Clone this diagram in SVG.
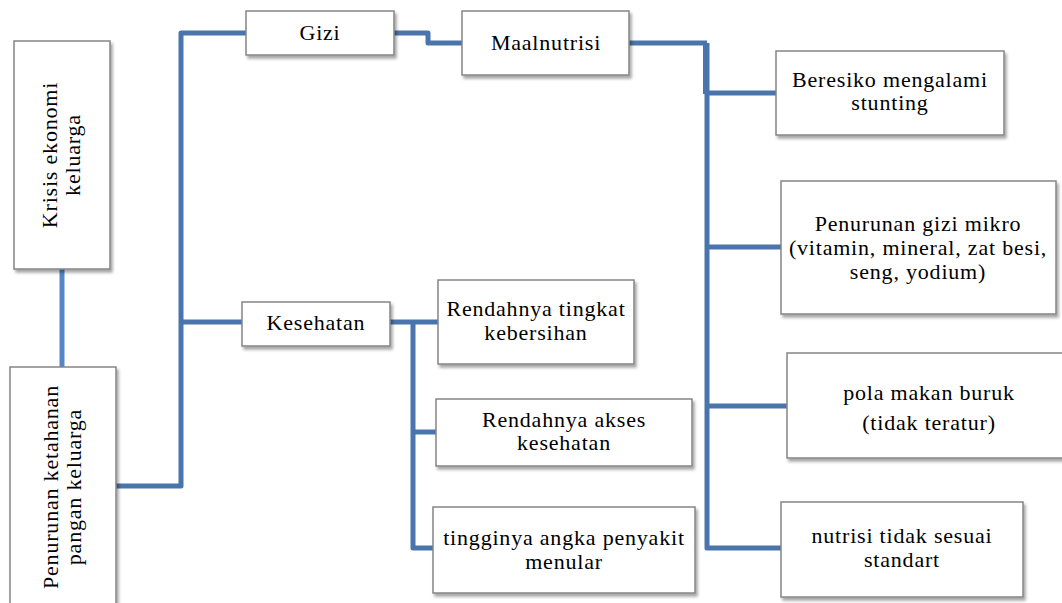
<svg xmlns="http://www.w3.org/2000/svg" width="1062" height="603" viewBox="0 0 1062 603">
<defs>
<filter id="sh" x="-10%" y="-10%" width="130%" height="130%">
<feDropShadow dx="2" dy="3" stdDeviation="1.5" flood-color="#000" flood-opacity="0.35"/>
</filter>
<style>
.box{fill:#fff;stroke:#858585;stroke-width:1.5;filter:url(#sh)}
.t{font-family:'Liberation Serif','DejaVu Serif',serif;font-size:22px;letter-spacing:0.8px;fill:#000;text-anchor:middle}
.c{fill:none;stroke:#4a74ac;stroke-width:5;stroke-linejoin:round}
.cl{fill:none;stroke:#5587c6;stroke-width:5}
</style>
</defs>
<rect width="1062" height="603" fill="#fff"/>
<g id="connectors">
<path class="cl" d="M62 269 V367"/>
<path class="c" d="M116 486 H181 V33 H246"/>
<path class="c" d="M181 322 H242"/>
<path class="c" stroke-width="4" d="M394 33 H428 V43 H462"/>
<path class="c" d="M390 322 H438"/>
<path class="c" d="M413 322 V548 H433"/>
<path class="c" d="M413 432 H436"/>
<path class="c" stroke-width="6" d="M629 43 H707"/>
<path class="c" stroke-width="11" d="M705.5 43 V94"/>
<path class="c" d="M707 43 V548 H781"/>
<path class="c" d="M707 93 H776"/>
<path class="c" d="M707 247 H781"/>
<path class="c" d="M707 406 H787"/>
</g>
<g id="krisis">
<rect class="box" x="14" y="41" width="96" height="228"/>
<text class="t" transform="translate(62,155) rotate(-90)"><tspan x="0" y="-5">Krisis ekonomi</tspan><tspan x="0" y="18">keluarga</tspan></text>
</g>
<g id="penurunan-ketahanan">
<rect class="box" x="10" y="367" width="106" height="245"/>
<text class="t" transform="translate(63,487) rotate(-90)"><tspan x="0" y="-5">Penurunan ketahanan</tspan><tspan x="0" y="18">pangan keluarga</tspan></text>
</g>
<g id="gizi">
<rect class="box" x="246" y="11" width="148" height="44"/>
<text class="t" x="320" y="40">Gizi</text>
</g>
<g id="maalnutrisi">
<rect class="box" x="462" y="11" width="167" height="64"/>
<text class="t" x="546" y="50">Maalnutrisi</text>
</g>
<g id="kesehatan">
<rect class="box" x="242" y="302" width="148" height="44"/>
<text class="t" x="316" y="330">Kesehatan</text>
</g>
<g id="rendah-kebersihan">
<rect class="box" x="438" y="280" width="196" height="84"/>
<text class="t"><tspan x="536" y="316">Rendahnya tingkat</tspan><tspan x="536" y="340">kebersihan</tspan></text>
</g>
<g id="rendah-akses">
<rect class="box" x="436" y="399" width="256" height="67"/>
<text class="t"><tspan x="564" y="427">Rendahnya akses</tspan><tspan x="564" y="450">kesehatan</tspan></text>
</g>
<g id="penyakit-menular">
<rect class="box" x="433" y="507" width="262" height="86"/>
<text class="t"><tspan x="564" y="545">tingginya angka penyakit</tspan><tspan x="564" y="569">menular</tspan></text>
</g>
<g id="stunting">
<rect class="box" x="776" y="51" width="228" height="84"/>
<text class="t"><tspan x="890" y="87">Beresiko mengalami</tspan><tspan x="890" y="110">stunting</tspan></text>
</g>
<g id="gizi-mikro">
<rect class="box" x="781" y="181" width="275" height="133"/>
<text class="t"><tspan x="918" y="231">Penurunan gizi mikro</tspan><tspan x="918" y="255">(vitamin, mineral, zat besi,</tspan><tspan x="918" y="279">seng, yodium)</tspan></text>
</g>
<g id="pola-makan">
<rect class="box" x="787" y="353" width="285" height="105"/>
<text class="t"><tspan x="929" y="400">pola makan buruk</tspan><tspan x="929" y="430">(tidak teratur)</tspan></text>
</g>
<g id="nutrisi">
<rect class="box" x="781" y="502" width="242" height="95"/>
<text class="t"><tspan x="902" y="543">nutrisi tidak sesuai</tspan><tspan x="902" y="567">standart</tspan></text>
</g>
</svg>
